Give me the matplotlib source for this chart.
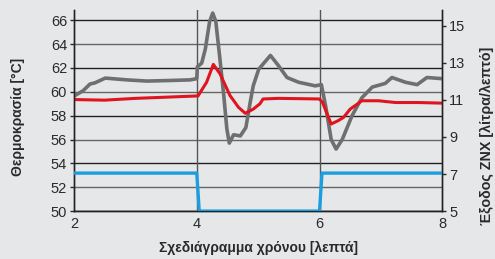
import matplotlib.pyplot as plt
import numpy as np

plt.rcParams['font.family'] = ['Liberation Sans', 'DejaVu Sans']

# red line: temperature [°C]
red_t = [2.0, 2.5, 3.0, 3.5, 4.0, 4.02, 4.16, 4.27, 4.38, 4.54, 4.68, 4.79, 4.92, 5.03, 5.08,
         5.33, 6.0, 6.05, 6.19, 6.31, 6.39, 6.5, 6.69, 6.96, 7.24, 7.62, 8.0]
red_v = [59.35, 59.3, 59.45, 59.55, 59.65, 59.65, 60.8, 62.3, 61.5, 59.7, 58.7, 58.2, 58.55, 59.0, 59.4,
         59.45, 59.4, 59.1, 57.3, 57.6, 57.85, 58.55, 59.25, 59.25, 59.1, 59.1, 59.05]

# gray line: temperature [°C]
gray_t = [2.02, 2.15, 2.26, 2.34, 2.51, 2.86, 3.19, 3.57, 3.89, 4.0, 4.01, 4.08, 4.14, 4.21, 4.26,
          4.31, 4.37, 4.44, 4.49, 4.53, 4.6, 4.71, 4.8, 4.87, 4.92, 5.01, 5.2, 5.33, 5.47,
          5.66, 5.93, 6.03, 6.1, 6.19, 6.27, 6.37, 6.53, 6.69, 6.86, 7.07, 7.18, 7.4, 7.59,
          7.75, 8.0]
gray_v = [59.7, 60.1, 60.65, 60.75, 61.15, 61.0, 60.9, 60.95, 61.0, 61.1, 62.1, 62.4, 63.6, 65.9, 66.6,
          65.9, 63.1, 59.7, 56.9, 55.7, 56.4, 56.3, 57.0, 59.1, 60.5, 61.9, 63.05, 62.2, 61.2,
          60.8, 60.5, 60.6, 58.8, 56.0, 55.2, 56.0, 58.0, 59.5, 60.4, 60.7, 61.2, 60.8, 60.6,
          61.2, 61.1]

# blue line: ZNX output [l/min]
blue_t = [2.0, 4.0, 4.04, 6.0, 6.04, 8.0]
blue_v = [7.05, 7.05, 5.0, 5.0, 7.05, 7.05]

left_ticks = [50, 52, 54, 56, 58, 60, 62, 64, 66]
right_ticks = [5, 7, 9, 11, 13, 15]
x_ticks = [2, 4, 6, 8]

bg = '#e6e7e9'
fig = plt.figure(figsize=(4.95, 2.59), dpi=100, facecolor=bg)
ax = fig.add_axes([0.1495, 0.185, 0.744, 0.776], facecolor=bg)
ax2 = ax.twinx()

for i, v in enumerate(left_ticks):
    c = '#222222' if i % 2 == 0 else '#666666'
    ax.axhline(v, color=c, lw=1.0, zorder=1)
for xv in [4, 6]:
    ax.axvline(xv, color='#555555', lw=1.0, zorder=1)

ax.plot(gray_t, gray_v, color='#6f6f6f', lw=2.6, zorder=3)
ax.plot(red_t, red_v, color='#e0141e', lw=2.2, zorder=4)
ax2.plot(blue_t, blue_v, color='#1a9ee0', lw=2.4, zorder=3)

ax.set_xlim(2, 8)
ax.set_ylim(50, 66.85)
ax2.set_ylim(5, 15.85)
ax.set_xticks(x_ticks)
ax.set_yticks(left_ticks)
ax2.set_yticks(right_ticks)

for a in (ax, ax2):
    a.spines['top'].set_visible(False)
    for s in a.spines.values():
        s.set_color('#222222')
        s.set_linewidth(1.0)
    a.tick_params(labelsize=10.5, colors='#2a2a2a', length=3, width=1, pad=2)
ax.tick_params(axis='x', length=0, pad=4)

ax.set_ylabel('Θερμοκρασία [°C]', fontsize=10, fontweight='bold', color='#2a2a2a')
ax.yaxis.set_label_coords(-0.133, 0.47)
ax2.set_ylabel('Έξοδος ZNX [λίτρα/λεπτό]', fontsize=10.3, fontweight='bold', color='#2a2a2a',
               rotation=90)
ax2.yaxis.set_label_coords(1.103, 0.373)
ax.set_xlabel('Σχεδιάγραμμα χρόνου [λεπτά]', fontsize=10, fontweight='bold', color='#2a2a2a')
ax.xaxis.set_label_coords(0.5, -0.15)

fig.savefig('out.png', dpi=100, facecolor=bg)
